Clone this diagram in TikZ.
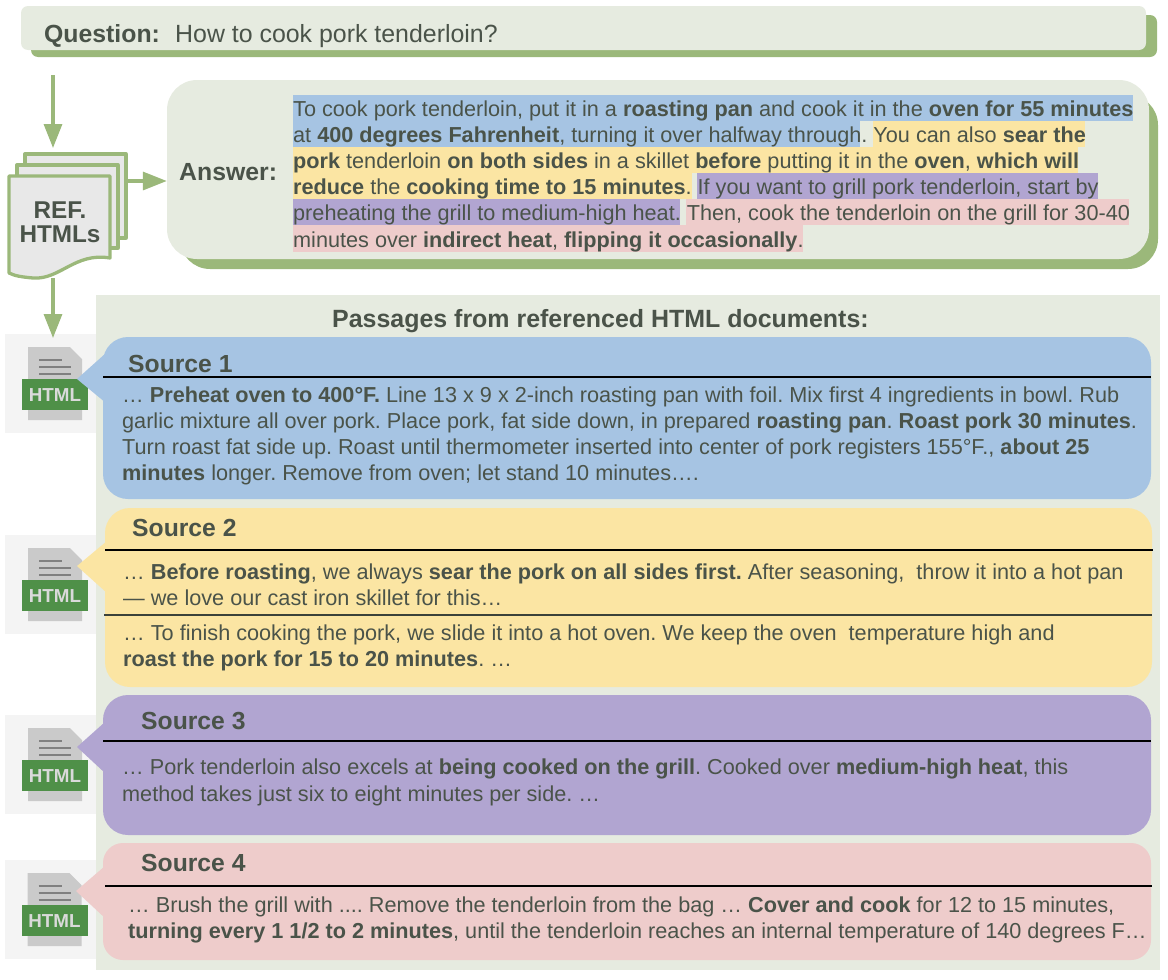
\documentclass[tikz,border=0pt]{standalone}
\usepackage{fontspec}
\setmainfont{Liberation Sans}
\usetikzlibrary{arrows.meta,positioning,calc}

\definecolor{boxGreen}{HTML}{E6EBE0}
\definecolor{shadowGreen}{HTML}{9BB87A}
\definecolor{inkGray}{HTML}{4A5349}
\definecolor{srcBlue}{HTML}{A6C4E3}
\definecolor{srcYellow}{HTML}{FBE5A3}
\definecolor{srcPurple}{HTML}{B1A5D1}
\definecolor{srcPink}{HTML}{EECCCB}
\definecolor{iconPanel}{HTML}{F4F4F4}
\definecolor{iconGray}{HTML}{CACACA}
\definecolor{iconLine}{HTML}{808080}
\definecolor{iconGreen}{HTML}{4F9048}
\definecolor{pageGray}{HTML}{E8E8E8}

\begin{document}
\frenchspacing
\begin{tikzpicture}[
    x=1pt,y=-1pt,
    font=\fontsize{20pt}{26pt}\selectfont,
    every node/.style={text=inkGray},
    textLine/.style={
        anchor=base west,
        inner sep=0pt,
        font=\fontsize{21.66pt}{26pt}\selectfont
    },
    headLine/.style={
        anchor=base west,
        inner sep=0pt,
        font=\fontsize{24.8pt}{28pt}\selectfont\bfseries
    },
    sourceHead/.style={
        anchor=base west,
        inner sep=0pt,
        font=\fontsize{24.7pt}{28pt}\selectfont\bfseries
    },
    flowArrow/.style={
        draw=shadowGreen,
        line width=3.3pt,
        -{Triangle[length=24pt,width=18pt]}
    },
    pageSheet/.style={
        draw=shadowGreen,
        fill=pageGray,
        line width=3.3pt,
        line join=round
    },
    sourceRule/.style={
        draw=black,
        line width=2.4pt
    },
    htmlicon/.pic={
        \fill[iconPanel] (-23,-13) rectangle (68,86);
        \fill[iconGray] (0,0) -- (42,0) -- (54,12) -- (54,73) -- (0,73) -- cycle;
        \draw[iconLine,line width=2.4pt] (11,13) -- (34,13);
        \draw[iconLine,line width=2.4pt] (11,20) -- (43,20);
        \draw[iconLine,line width=2.4pt] (11,27) -- (43,27);
        \fill[iconGreen] (-6,32) rectangle (60,63);
        \node[text=iconGray!70!white,font=\fontsize{18.8pt}{20pt}\selectfont\bfseries,inner sep=0pt] at (27,48) {HTML};
    }
]
\useasboundingbox (0,0) rectangle (1168,980);

% ==================== QUESTION ====================
\fill[shadowGreen,rounded corners=7pt] (31,15) rectangle (1157,57);
\fill[boxGreen,rounded corners=7pt] (21,6) rectangle (1146,50);
\node[headLine] (questionLabel) at (44,42) {Question:};
\node[textLine,font=\fontsize{24.9pt}{28pt}\selectfont] (questionText) at (175,42) {How to cook pork tenderloin?};

% ==================== ANSWER ====================
\fill[shadowGreen,rounded corners=30pt] (180,95) rectangle (1158,269);
\fill[boxGreen,rounded corners=30pt] (167,80) rectangle (1149,259);
\node[inner sep=0pt,minimum width=982pt,minimum height=179pt] (answer) at (658,169.5) {};
\node[headLine] (answerLabel) at (179,180) {Answer:};

% Highlights
\fill[srcBlue] (293,95) rectangle (1133,121);
\fill[srcBlue] (293,121) rectangle (860,147);
\fill[srcYellow] (873,121) rectangle (1085,147);
\fill[srcYellow] (293,147) rectangle (1078,173);
\fill[srcYellow] (293,173) rectangle (692,199);
\fill[srcPurple] (697,173) rectangle (1098,199);
\fill[srcPurple] (293,199) rectangle (680,225);
\fill[srcPink] (686,199) rectangle (1129,225);
\fill[srcPink] (293,225) rectangle (803,252);

\node[textLine] (ansA) at (293,116) {To cook pork tenderloin, put it in a \textbf{roasting pan} and cook it in the \textbf{oven for 55 minutes}};
\node[textLine] (ansB) at (293,142) {at \textbf{400 degrees Fahrenheit}, turning it over halfway through. You can also \textbf{sear the}};
\node[textLine] (ansC) at (293,168) {\textbf{pork} tenderloin \textbf{on both sides} in a skillet \textbf{before} putting it in the \textbf{oven}, \textbf{which will}};
\node[textLine] (ansD) at (293,194) {\textbf{reduce} the \textbf{cooking time to 15 minutes}. If you want to grill pork tenderloin, start by};
\node[textLine] (ansE) at (293,220) {preheating the grill to medium-high heat. Then, cook the tenderloin on the grill for 30-40};
\node[textLine] (ansF) at (293,247) {minutes over \textbf{indirect heat}, \textbf{flipping it occasionally}.};

% ==================== REF DOCUMENTS ====================
\draw[pageSheet] (25,154) -- (126,154) -- (126,238) -- (25,238) -- cycle;
\draw[pageSheet] (17,165) -- (118,165) -- (118,248) -- (17,248) -- cycle;
\draw[pageSheet] (9,176) -- (110,176) -- (110,258) .. controls (75,252) and (60,280) .. (33,278) .. controls (22,277) and (15,276) .. (9,273) -- cycle;
\node[inner sep=0pt,align=center,font=\fontsize{24.3pt}{24pt}\selectfont\bfseries] (refDocs) at (60,222) {REF.\\HTMLs};

% ==================== PASSAGES ====================
\fill[boxGreen] (96,295) rectangle (1160,970);
\node[headLine,font=\fontsize{24.95pt}{28pt}\selectfont\bfseries] (passageTitle) at (332,327) {Passages from referenced HTML documents:};

\pic at (28,347) {htmlicon};
\pic at (28,548) {htmlicon};
\pic at (28,728) {htmlicon};
\pic at (27.5,873) {htmlicon};

% Source 1
\fill[srcBlue,rounded corners=25pt] (103,337) rectangle (1151,499);
\fill[srcBlue] (77,379) -- (106,353) -- (106,403) -- cycle;
\draw[sourceRule] (103,377) -- (1151,377);
\node[sourceHead] (srcOne) at (128,372) {Source 1};
\node[textLine] (srcOneA) at (122,402) {… \textbf{Preheat oven to 400°F.} Line 13 x 9 x 2-inch roasting pan with foil. Mix first 4 ingredients in bowl. Rub};
\node[textLine] (srcOneB) at (122,428) {garlic mixture all over pork. Place pork, fat side down, in prepared \textbf{roasting pan}. \textbf{Roast pork 30 minutes}.};
\node[textLine] (srcOneC) at (122,454) {Turn roast fat side up. Roast until thermometer inserted into center of pork registers 155°F., \textbf{about 25}};
\node[textLine] (srcOneD) at (122,480) {\textbf{minutes} longer. Remove from oven; let stand 10 minutes….};

% Source 2
\fill[srcYellow,rounded corners=25pt] (105,508) rectangle (1152,687);
\fill[srcYellow] (77,566) -- (107,541) -- (107,593) -- cycle;
\draw[sourceRule] (105,550) -- (1153,550);
\draw[draw=inkGray!80!black,line width=1.2pt] (104,615) -- (1152,615);
\node[sourceHead] (srcTwo) at (132,536) {Source 2};
\node[textLine] (srcTwoA) at (123,579) {… \textbf{Before roasting}, we always \textbf{sear the pork on all sides first.} After seasoning,\ \ throw it into a hot pan};
\node[textLine] (srcTwoB) at (123,605) {— we love our cast iron skillet for this…};
\node[textLine] (srcTwoC) at (123,640) {… To finish cooking the pork, we slide it into a hot oven. We keep the oven\ \ temperature high and};
\node[textLine] (srcTwoD) at (123,666) {\textbf{roast the pork for 15 to 20 minutes}. …};

% Source 3
\fill[srcPurple,rounded corners=25pt] (103,695) rectangle (1151,835);
\fill[srcPurple] (77,747) -- (105,722) -- (105,773) -- cycle;
\draw[sourceRule] (103,741) -- (1151,741);
\node[sourceHead] (srcThree) at (141,729) {Source 3};
\node[textLine] (srcThreeA) at (122,774) {… Pork tenderloin also excels at \textbf{being cooked on the grill}. Cooked over \textbf{medium-high heat}, this};
\node[textLine] (srcThreeB) at (122,801) {method takes just six to eight minutes per side. …};

% Source 4
\fill[srcPink,rounded corners=20pt] (103,843) rectangle (1151,960);
\fill[srcPink] (76,891) -- (105,866) -- (105,918) -- cycle;
\draw[sourceRule] (105,886) -- (1152,886);
\node[sourceHead] (srcFour) at (141,871) {Source 4};
\node[textLine] (srcFourA) at (128,912) {… Brush the grill with .... Remove the tenderloin from the bag … \textbf{Cover and cook} for 12 to 15 minutes,};
\node[textLine] (srcFourB) at (128,938) {\textbf{turning every 1 1/2 to 2 minutes}, until the tenderloin reaches an internal temperature of 140 degrees F…};

% ==================== ARROWS ====================
\coordinate (questionOut) at (53,75);
\coordinate (docsIn) at (53,148);
\coordinate (docsRight) at (127,181);
\coordinate (docsBottom) at (53,278);
\coordinate (iconIn) at (53,338);
\draw[flowArrow] (questionOut) -- (docsIn);
\draw[flowArrow] (docsRight) -- (answer.west |- docsRight);
\draw[flowArrow] (docsBottom) -- (iconIn);

\end{tikzpicture}
\end{document}
